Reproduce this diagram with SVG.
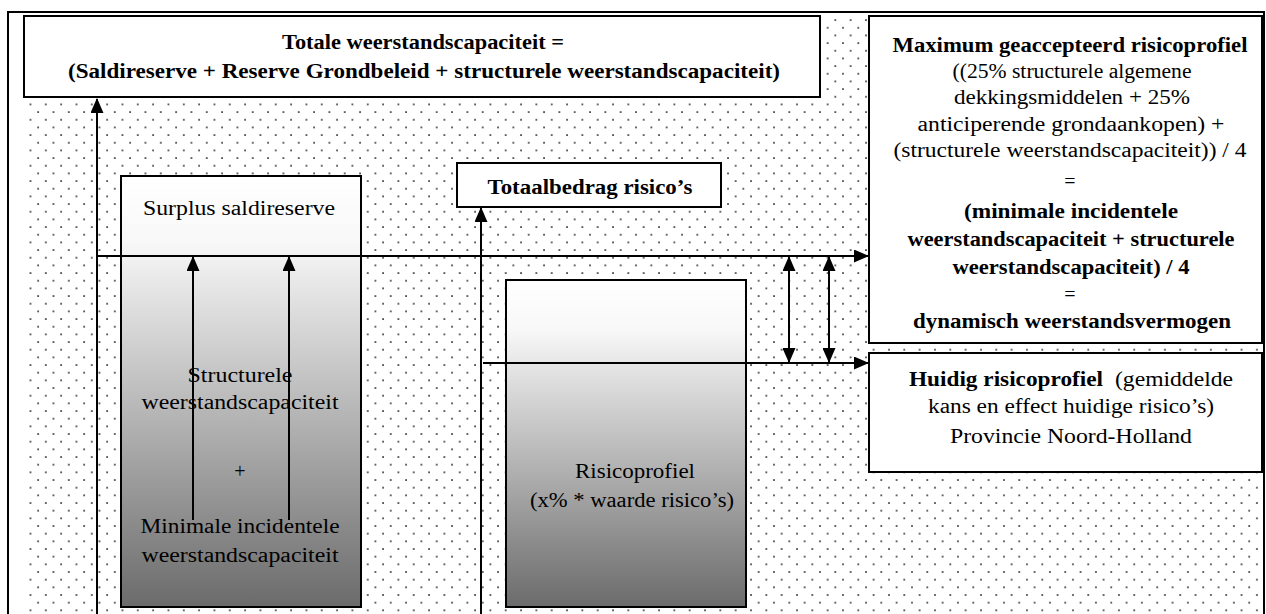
<svg xmlns="http://www.w3.org/2000/svg" width="1266" height="614" viewBox="0 0 1266 614">
<defs>
<pattern id="dots" patternUnits="userSpaceOnUse" x="6.5" y="3.8" width="15.33" height="15.33">
<rect x="0.2" y="0.2" width="1.6" height="1.6" fill="#222"/>
<rect x="7.87" y="7.87" width="1.6" height="1.6" fill="#222"/>
</pattern>
<linearGradient id="grad" x1="0" y1="0" x2="0" y2="1">
<stop offset="0" stop-color="#ffffff"/>
<stop offset="0.15" stop-color="#f8f8f8"/>
<stop offset="1" stop-color="#6b6b6b"/>
</linearGradient>
<marker id="ah" markerUnits="userSpaceOnUse" markerWidth="15" markerHeight="13" refX="14" refY="6.5" orient="auto-start-reverse">
<path d="M0,0 L15,6.5 L0,13 z" fill="#000"/>
</marker>
<style>
.box{fill:#fff;stroke:#000;stroke-width:2}
.gbox{fill:url(#grad);stroke:#000;stroke-width:2}
.t{font-family:"Liberation Serif","Times New Roman",serif;font-size:20px;fill:#000;text-anchor:middle}
.b{font-weight:bold}
.s{text-anchor:start}
.c{fill:none;stroke:#000;stroke-width:2}
</style>
</defs>
<rect x="8" y="12" width="1256" height="620" fill="#fff" stroke="#000" stroke-width="2"/>
<rect x="24" y="16" width="1239" height="610" fill="url(#dots)"/>

<g id="totale">
<rect class="box" x="24" y="16" width="796" height="81"/>
<text class="t b" x="423" y="49" textLength="282" lengthAdjust="spacingAndGlyphs">Totale weerstandscapaciteit =</text>
<text class="t b" x="424" y="78" textLength="712" lengthAdjust="spacingAndGlyphs">(Saldireserve + Reserve Grondbeleid + structurele weerstandscapaciteit)</text>
</g>

<g id="maximum">
<rect class="box" x="869" y="16" width="393" height="327"/>
<text class="t b" x="1070" y="52" textLength="355" lengthAdjust="spacingAndGlyphs">Maximum geaccepteerd risicoprofiel</text>
<text class="t" font-family="Liberation Serif, serif" x="1072" y="78" textLength="239" lengthAdjust="spacingAndGlyphs">((25% structurele algemene</text>
<text class="t" font-family="Liberation Serif, serif" x="1072" y="104" textLength="236" lengthAdjust="spacingAndGlyphs">dekkingsmiddelen + 25%</text>
<text class="t" font-family="Liberation Serif, serif" x="1071" y="131" textLength="307" lengthAdjust="spacingAndGlyphs">anticiperende grondaankopen) +</text>
<text class="t" font-family="Liberation Serif, serif" x="1070" y="157" textLength="353" lengthAdjust="spacingAndGlyphs">(structurele weerstandscapaciteit)) / 4</text>
<text class="t" x="1070" y="188">=</text>
<text class="t b" x="1071" y="218" textLength="214" lengthAdjust="spacingAndGlyphs">(minimale incidentele</text>
<text class="t b" x="1071" y="246" textLength="327" lengthAdjust="spacingAndGlyphs">weerstandscapaciteit + structurele</text>
<text class="t b" x="1071" y="274" textLength="237" lengthAdjust="spacingAndGlyphs">weerstandscapaciteit) / 4</text>
<text class="t" x="1070" y="301">=</text>
<text class="t b" x="1072" y="328" textLength="318" lengthAdjust="spacingAndGlyphs">dynamisch weerstandsvermogen</text>
</g>

<g id="huidig">
<rect class="box" x="869" y="353" width="393" height="119"/>
<text class="t b s" x="909" y="386" textLength="194" lengthAdjust="spacingAndGlyphs">Huidig risicoprofiel</text>
<text class="t s" x="1115" y="386" textLength="118" lengthAdjust="spacingAndGlyphs">(gemiddelde</text>
<text class="t" x="1071" y="413" textLength="286" lengthAdjust="spacingAndGlyphs">kans en effect huidige risico’s)</text>
<text class="t" x="1071" y="443" textLength="242" lengthAdjust="spacingAndGlyphs">Provincie Noord-Holland</text>
</g>

<g id="totaalbedrag">
<rect class="box" x="457" y="163" width="264" height="44"/>
<text class="t b" x="590" y="194" textLength="205" lengthAdjust="spacingAndGlyphs">Totaalbedrag risico’s</text>
</g>

<g id="surplus">
<rect class="gbox" x="121" y="176" width="240" height="431"/>
<text class="t" x="239" y="215" textLength="192" lengthAdjust="spacingAndGlyphs">Surplus saldireserve</text>
<text class="t" x="240" y="382" textLength="105" lengthAdjust="spacingAndGlyphs">Structurele</text>
<text class="t" x="240" y="409" textLength="197" lengthAdjust="spacingAndGlyphs">weerstandscapaciteit</text>
<text class="t" x="240" y="478">+</text>
<text class="t" x="240" y="533" textLength="199" lengthAdjust="spacingAndGlyphs">Minimale incidentele</text>
<text class="t" x="240" y="562" textLength="197" lengthAdjust="spacingAndGlyphs">weerstandscapaciteit</text>
</g>

<g id="risicoprofiel">
<rect class="gbox" x="506" y="280" width="240" height="327"/>
<text class="t" x="635" y="478" textLength="120" lengthAdjust="spacingAndGlyphs">Risicoprofiel</text>
<text class="t" x="632" y="507" textLength="204" lengthAdjust="spacingAndGlyphs">(x% * waarde risico’s)</text>
</g>

<g id="connectors">
<path class="c" d="M97,620 L97,99" marker-end="url(#ah)"/>
<path class="c" d="M97,256 L868,256" marker-end="url(#ah)"/>
<path class="c" d="M193,520 L193,257" marker-end="url(#ah)"/>
<path class="c" d="M289,520 L289,257" marker-end="url(#ah)"/>
<path class="c" d="M481,620 L481,208" marker-end="url(#ah)"/>
<path class="c" d="M483,363 L868,363" marker-end="url(#ah)"/>
<path class="c" d="M789,257 L789,362" marker-start="url(#ah)" marker-end="url(#ah)"/>
<path class="c" d="M829,257 L829,362" marker-start="url(#ah)" marker-end="url(#ah)"/>
</g>
</svg>
